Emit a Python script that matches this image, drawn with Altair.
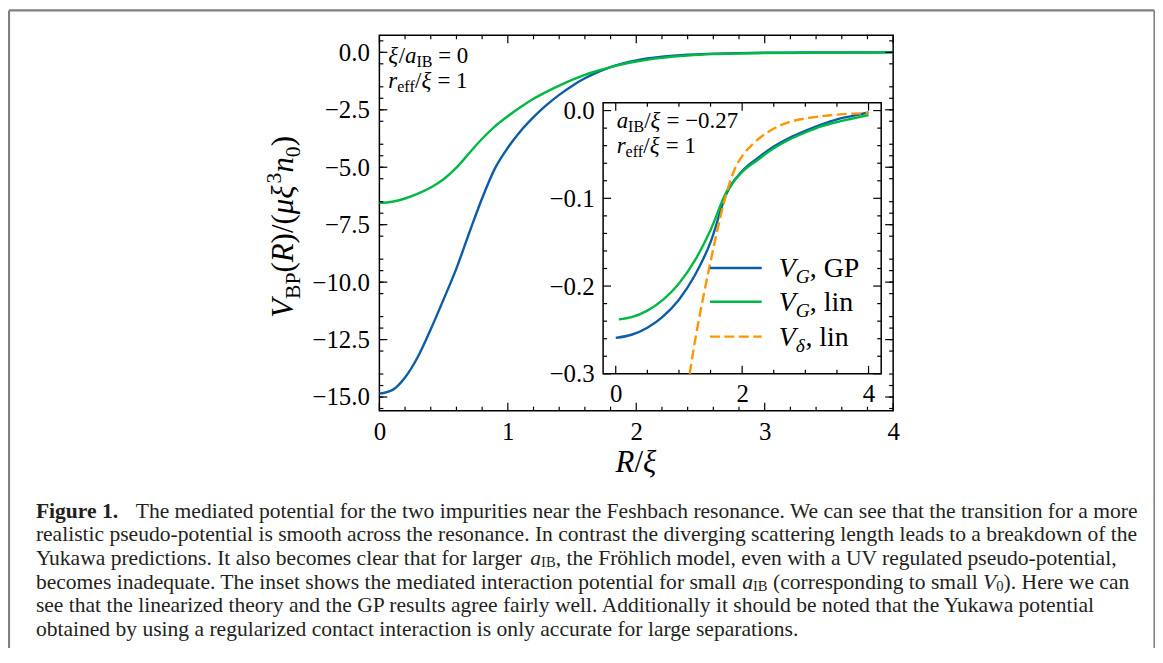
import altair as alt
import pandas as pd

# ------------------------------------------------------------------ data
# main panel  (R/xi , V_BP / (mu xi^3 n0))
R_MAIN = [0.0, 0.1, 0.2, 0.3, 0.4, 0.5, 0.6, 0.7, 0.8, 0.9, 1.0, 1.1, 1.2,
          1.3, 1.4, 1.5, 1.6, 1.7, 1.8, 2.0, 2.2, 2.4, 2.6, 2.8, 3.0, 3.3,
          3.6, 4.0]
VG_GP_MAIN = [-14.85, -14.70, -14.15, -13.25, -12.05, -10.75, -9.40, -7.85,
              -6.35, -5.05, -4.15, -3.42, -2.82, -2.30, -1.85, -1.46, -1.13,
              -0.86, -0.64, -0.35, -0.19, -0.10, -0.06, -0.035, -0.02, -0.01,
              -0.005, -0.002]
VG_LIN_MAIN = [-6.55, -6.50, -6.36, -6.15, -5.88, -5.52, -5.02, -4.38,
               -3.76, -3.22, -2.78, -2.38, -2.02, -1.72, -1.45, -1.20, -0.98,
               -0.80, -0.64, -0.40, -0.24, -0.14, -0.08, -0.05, -0.03, -0.015,
               -0.008, -0.003]

# inset panel
R_IN_GP = [0.0, 0.25, 0.5, 0.75, 1.0, 1.25, 1.5, 1.75, 2.0, 2.25, 2.5, 2.75,
           3.0, 3.25, 3.5, 3.75, 4.0]
VG_GP_IN = [-0.259, -0.2555, -0.2475, -0.2345, -0.2155, -0.188, -0.150,
            -0.095, -0.069, -0.054, -0.041, -0.031, -0.023, -0.016, -0.010,
            -0.006, -0.002]
R_IN_LIN = [0.05, 0.25, 0.5, 0.75, 1.0, 1.25, 1.5, 1.75, 2.0, 2.25, 2.5, 2.75,
            3.0, 3.25, 3.5, 3.75, 4.0]
VG_LIN_IN = [-0.238, -0.2355, -0.228, -0.2155, -0.197, -0.171, -0.136,
             -0.093, -0.070, -0.056, -0.043, -0.033, -0.025, -0.018, -0.013,
             -0.009, -0.005]
R_IN_DELTA = [1.17, 1.22, 1.3, 1.4, 1.5, 1.6, 1.7, 1.8, 1.9, 2.0, 2.2, 2.4,
              2.6, 2.8, 3.0, 3.3, 3.6, 4.0]
VD_LIN_IN = [-0.300, -0.277, -0.244, -0.207, -0.172, -0.139, -0.108, -0.083,
             -0.064, -0.052, -0.036, -0.025, -0.017, -0.012, -0.009, -0.006,
             -0.004, -0.003]

# axes
MAIN_XLIM = [0.0, 4.0]
MAIN_YLIM = [-15.5925, 0.7425]
IN_XLIM = [-0.2, 4.2]
IN_YLIM = [-0.3, 0.009]
MAIN_X_TICKS = [0, 1, 2, 3, 4]
MAIN_Y_TICKS = [0.0, -2.5, -5.0, -7.5, -10.0, -12.5, -15.0]
IN_X_TICKS = [0, 2, 4]
IN_Y_TICKS = [0.0, -0.1, -0.2, -0.3]
MAIN_X_MINOR = [round(0.2 * i, 2) for i in range(21) if i % 5]
MAIN_Y_MINOR = [round(-15.5 + 0.5 * i, 2) for i in range(33) if (i + 1) % 5]
IN_X_MINOR = [0.5, 1.0, 1.5, 2.5, 3.0, 3.5]
IN_Y_MINOR = [round(-0.02 * k, 3) for k in range(1, 15) if k % 5]

# text
CSUB, CSH = 0.68, 0.1
LEGEND_LABELS = [("V", "G", ", GP"), ("V", "G", ", lin"), ("V", "δ", ", lin")]
CAPTION_HEAD = "Figure 1."
CAPTION = [
    [("The mediated potential for the two impurities near the Feshbach resonance. "
      "We can see that the transition for a more", "rm", 1, 0)],
    [("realistic pseudo-potential is smooth across the resonance. In contrast the "
      "diverging scattering length leads to a breakdown of the", "rm", 1, 0)],
    [("Yukawa predictions. It also becomes clear that for larger ", "rm", 1, 0),
     ("a", "it", 1, 0), ("IB", "rm", CSUB, CSH),
     (", the Fröhlich model, even with a UV regulated pseudo-potential,", "rm", 1, 0)],
    [("becomes inadequate. The inset shows the mediated interaction potential for small ", "rm", 1, 0),
     ("a", "it", 1, 0), ("IB", "rm", CSUB, CSH),
     (" (corresponding to small ", "rm", 1, 0), ("V", "it", 1, 0), ("0", "rm", CSUB, CSH),
     ("). Here we can", "rm", 1, 0)],
    [("see that the linearized theory and the GP results agree fairly well. "
      "Additionally it should be noted that the Yukawa potential", "rm", 1, 0)],
    [("obtained by using a regularized contact interaction is only accurate for "
      "large separations.", "rm", 1, 0)],
]

# ------------------------------------------------------------------ style / layout
SERIF = "Liberation Serif"
BLUE, GREEN, ORANGE = "#0C5DA5", "#00B945", "#FF9500"
LW = 2.4
DASH = [10, 4.5]
W, H = 516, 377
PAD = {"left": 373, "top": 26, "right": 263, "bottom": 237}
OX, OY = 8 + PAD["left"], 8 + PAD["top"]


def px(x):
    return x - OX


def py(y):
    return y - OY


IX0, IX1 = px(605.7), px(885.0)
IY0, IY1 = py(101.7), py(374.0)
MAJ, MIN_ = 8, 4

# Times / Liberation Serif advance widths (1/1000 em)
_RM = dict(zip(" !\"#$%&'()*+,-./0123456789:;<=>?@",
               [250, 333, 408, 500, 500, 833, 778, 180, 333, 333, 500, 564, 250, 333,
                250, 278, 500, 500, 500, 500, 500, 500, 500, 500, 500, 500, 278, 278,
                564, 564, 564, 444, 921]))
_RM.update(zip("ABCDEFGHIJKLMNOPQRSTUVWXYZ",
               [722, 667, 667, 722, 611, 556, 722, 722, 333, 389, 722, 611, 889, 722,
                722, 556, 722, 667, 556, 611, 722, 722, 944, 722, 722, 611]))
_RM.update(zip("abcdefghijklmnopqrstuvwxyz",
               [444, 500, 444, 500, 444, 333, 500, 500, 278, 278, 500, 278, 778, 500,
                500, 500, 500, 333, 389, 278, 500, 500, 722, 500, 500, 444]))
_RM.update({"ö": 500, "−": 564, "ξ": 450, "μ": 550, "δ": 500})
_IT = dict(_RM)
_IT.update(zip("ABCDEFGHIJKLMNOPQRSTUVWXYZ",
               [611, 611, 667, 722, 611, 611, 722, 722, 333, 444, 667, 556, 833, 667,
                722, 611, 722, 611, 500, 556, 722, 611, 833, 611, 556, 556]))
_IT.update(zip("abcdefghijklmnopqrstuvwxyz",
               [500, 500, 444, 500, 444, 278, 500, 500, 278, 278, 444, 278, 722, 500,
                500, 500, 500, 389, 389, 278, 500, 444, 667, 444, 444, 389]))
_BF = dict(_RM)
_BF.update({"F": 611, "i": 278, "g": 500, "u": 556, "r": 444, "e": 444})
_TAB = {"rm": _RM, "it": _IT, "bf": _BF}


def tw(s, style, size):
    t = _TAB[style]
    return sum(t.get(c, 500) for c in s) * size / 1000.0


ROWS = []


def run(x0, y0, parts, base, angle=0, color="black"):
    cur = 0.0
    for text, st, sc, sh in parts:
        size = base * sc
        lead = len(text) - len(text.lstrip(" "))
        off = tw(" " * lead, st, size)
        if angle == 0:
            X, Y = x0 + cur + off, y0 + sh * base
        else:
            X, Y = x0 + sh * base, y0 - cur - off
        ROWS.append({"px": X, "py": Y, "text": text.strip(), "sz": size,
                     "style": st, "angle": angle, "color": color})
        cur += tw(text, st, size)
    return cur


def width(parts, base):
    return sum(tw(t, st, base * sc) for t, st, sc, sh in parts)


# annotations
FA = 23
SUB = 0.18
run(px(390), py(62.0), [("ξ", "it", 1, 0), ("/", "rm", 1, 0), ("a", "it", 1, 0),
                         ("IB", "rm", 0.7, SUB), (" = 0", "rm", 1, 0)], FA)
run(px(390), py(87.0), [("r", "it", 1, 0), ("eff", "rm", 0.7, SUB), ("/", "rm", 1, 0),
                         ("ξ", "it", 1, 0), (" = 1", "rm", 1, 0)], FA)
run(px(619.3), py(127.0), [("a", "it", 1, 0), ("IB", "rm", 0.7, SUB), ("/", "rm", 1, 0),
                            ("ξ", "it", 1, 0), (" = −0.27", "rm", 1, 0)], FA)
run(px(619.3), py(152.0), [("r", "it", 1, 0), ("eff", "rm", 0.7, SUB), ("/", "rm", 1, 0),
                            ("ξ", "it", 1, 0), (" = 1", "rm", 1, 0)], FA)

# legend
FL = 28
LEG_Y = [py(267.7), py(301.7), py(336.7)]
LEG_X0, LEG_X1, LEG_TX = px(713), px(765), px(782)
for (v, sub, rest), yy in zip(LEGEND_LABELS, LEG_Y):
    run(LEG_TX, yy + 9, [(v, "it", 1, 0), (sub, "it", 0.7, 0.22), (rest, "rm", 1, 0)], FL)

# axis titles
FT = 31
ytitle = [("V", "it", 1, 0), ("BP", "rm", 0.7, 0.22), ("(", "rm", 1, 0), ("R", "it", 1, 0),
          (")/(", "rm", 1, 0), ("μξ", "it", 1, 0), ("3", "rm", 0.7, -0.38),
          ("n", "it", 1, 0), ("0", "rm", 0.7, 0.22), (")", "rm", 1, 0)]
run(px(294), py(226.5) + width(ytitle, FT) / 2, ytitle, FT, angle=270)
xtitle = [("R", "it", 1, 0), ("/", "rm", 1, 0), ("ξ", "it", 1, 0)]
run(px(639) - width(xtitle, FT) / 2, py(473), xtitle, FT)

# caption
CAP_W = 1109.0
GAP = 0.8
head_em = tw(CAPTION_HEAD, "bf", 1000) / 1000
line1_em = head_em + GAP + width(CAPTION[0], 1000) / 1000
FC = CAP_W / line1_em
CAP_X = px(36)
CAP_Y0, CAP_DY = py(518.5), 23.8
CAPC = "#231f20"
run(CAP_X, CAP_Y0, [(CAPTION_HEAD, "bf", 1, 0)], FC, color=CAPC)
for i, parts in enumerate(CAPTION):
    x0 = CAP_X + (head_em + GAP) * FC if i == 0 else CAP_X
    run(x0, CAP_Y0 + i * CAP_DY, parts, FC, color=CAPC)

# ------------------------------------------------------------------ scales & axes
xs_main = alt.Scale(domain=MAIN_XLIM, nice=False, zero=False)
ys_main = alt.Scale(domain=MAIN_YLIM, nice=False, zero=False)
xs_in = alt.Scale(domain=IN_XLIM, range=[IX0, IX1], nice=False, zero=False)
ys_in = alt.Scale(domain=IN_YLIM, range=[IY1, IY0], nice=False, zero=False)

LAB = dict(labelFont=SERIF, labelFontSize=25, labelColor="black", ticks=False,
           domain=False, grid=False, labelFlush=False, labelOverlap=False, title=None)
ax_main_x = alt.Axis(orient="bottom", values=MAIN_X_TICKS, format="d", labelPadding=9, **LAB)
ax_main_y = alt.Axis(orient="left", values=MAIN_Y_TICKS, format=".1f", labelPadding=10, **LAB)
ax_in_x = alt.Axis(orient="bottom", offset=IY1 - H, values=IN_X_TICKS, format="d",
                   labelPadding=8, **LAB)
ax_in_y = alt.Axis(orient="left", offset=-IX0, values=IN_Y_TICKS, format=".1f",
                   labelPadding=9, **LAB)


def XM(f):
    return alt.X(f, type="quantitative", scale=xs_main, axis=ax_main_x)


def YM(f):
    return alt.Y(f, type="quantitative", scale=ys_main, axis=ax_main_y)


def XI(f):
    return alt.X(f, type="quantitative", scale=xs_in, axis=ax_in_x)


def YI(f):
    return alt.Y(f, type="quantitative", scale=ys_in, axis=ax_in_y)


def line(R, V, X, Y, color, interp="monotone", dash=None):
    kw = dict(color=color, strokeWidth=LW, interpolate=interp)
    if dash:
        kw["strokeDash"] = dash
    return alt.Chart(pd.DataFrame({"R": R, "V": V})).mark_line(**kw).encode(
        x=X("R"), y=Y("V"))


def xticks(vals, X, edge, sign, length):
    return alt.Chart(pd.DataFrame({"v": vals})).mark_rule(color="black", strokeWidth=1.2).encode(
        x=X("v"), y=alt.value(edge), y2=alt.value(edge + sign * length))


def yticks(vals, Y, edge, sign, length):
    return alt.Chart(pd.DataFrame({"v": vals})).mark_rule(color="black", strokeWidth=1.2).encode(
        y=Y("v"), x=alt.value(edge), x2=alt.value(edge + sign * length))


main = alt.layer(
    line(R_MAIN, VG_GP_MAIN, XM, YM, BLUE),
    line(R_MAIN, VG_LIN_MAIN, XM, YM, GREEN),
    xticks(MAIN_X_TICKS, XM, H, -1, MAJ), xticks(MAIN_X_MINOR, XM, H, -1, MIN_),
    xticks(MAIN_X_TICKS, XM, 0, 1, MAJ), xticks(MAIN_X_MINOR, XM, 0, 1, MIN_),
    yticks(MAIN_Y_TICKS, YM, 0, 1, MAJ), yticks(MAIN_Y_MINOR, YM, 0, 1, MIN_),
    yticks(MAIN_Y_TICKS, YM, W, -1, MAJ), yticks(MAIN_Y_MINOR, YM, W, -1, MIN_),
)

box = pd.DataFrame({"x0": [IN_XLIM[0]], "x1": [IN_XLIM[1]],
                    "y0": [IN_YLIM[0]], "y1": [IN_YLIM[1]]})
inset = alt.layer(
    alt.Chart(box).mark_rect(fill="white", stroke="black", strokeWidth=1.5).encode(
        x=XI("x0"), x2="x1", y=YI("y0"), y2="y1"),
    xticks(IN_X_TICKS, XI, IY1, -1, MAJ), xticks(IN_X_MINOR, XI, IY1, -1, MIN_),
    xticks(IN_X_TICKS, XI, IY0, 1, MAJ), xticks(IN_X_MINOR, XI, IY0, 1, MIN_),
    yticks(IN_Y_TICKS, YI, IX0, 1, MAJ), yticks(IN_Y_MINOR, YI, IX0, 1, MIN_),
    yticks(IN_Y_TICKS, YI, IX1, -1, MAJ), yticks(IN_Y_MINOR, YI, IX1, -1, MIN_),
    line(R_IN_GP, VG_GP_IN, XI, YI, BLUE),
    line(R_IN_LIN, VG_LIN_IN, XI, YI, GREEN),
    line(R_IN_DELTA, VD_LIN_IN, XI, YI, ORANGE, dash=DASH),
)

one = pd.DataFrame({"k": [0]})
handles = []
for col, yy, dash in zip([BLUE, GREEN, ORANGE], LEG_Y, [None, None, DASH]):
    kw = dict(color=col, strokeWidth=LW)
    if dash:
        kw["strokeDash"] = dash
    handles.append(alt.Chart(one).mark_rule(**kw).encode(
        x=alt.value(LEG_X0), x2=alt.value(LEG_X1), y=alt.value(yy)))

rows = pd.DataFrame(ROWS)
texts = []
for (st, ang, col), g in rows.groupby(["style", "angle", "color"]):
    kw = dict(font=SERIF, align="left", baseline="alphabetic", color=col)
    if ang:
        kw["angle"] = ang
    if st == "it":
        kw["fontStyle"] = "italic"
    if st == "bf":
        kw["fontWeight"] = "bold"
    texts.append(alt.Chart(g.reset_index(drop=True)).mark_text(**kw).encode(
        x=alt.X("px:Q", scale=None, axis=None),
        y=alt.Y("py:Q", scale=None, axis=None),
        text="text:N",
        size=alt.Size("sz:Q", scale=None, legend=None)))

frame_df = pd.DataFrame({"x": [px(9), px(9), px(1159.5)],
                         "x2": [px(1159.5), px(9), px(1159.5)],
                         "y": [py(9), py(9), py(9)],
                         "y2": [py(9), py(700), py(700)]})
frame = alt.Chart(frame_df).mark_rule(color="#808080", strokeWidth=2.2).encode(
    x=alt.X("x:Q", scale=None, axis=None), x2="x2:Q",
    y=alt.Y("y:Q", scale=None, axis=None), y2="y2:Q")

chart = alt.layer(main, inset, *handles, *texts, frame).resolve_scale(
    x="independent", y="independent"
).properties(
    width=W, height=H, padding=PAD, autosize=alt.AutoSizeParams(type="none")
).configure_view(stroke="black", strokeWidth=1.5)

chart.save("out.html", embed_options={"renderer": "svg", "actions": False})
